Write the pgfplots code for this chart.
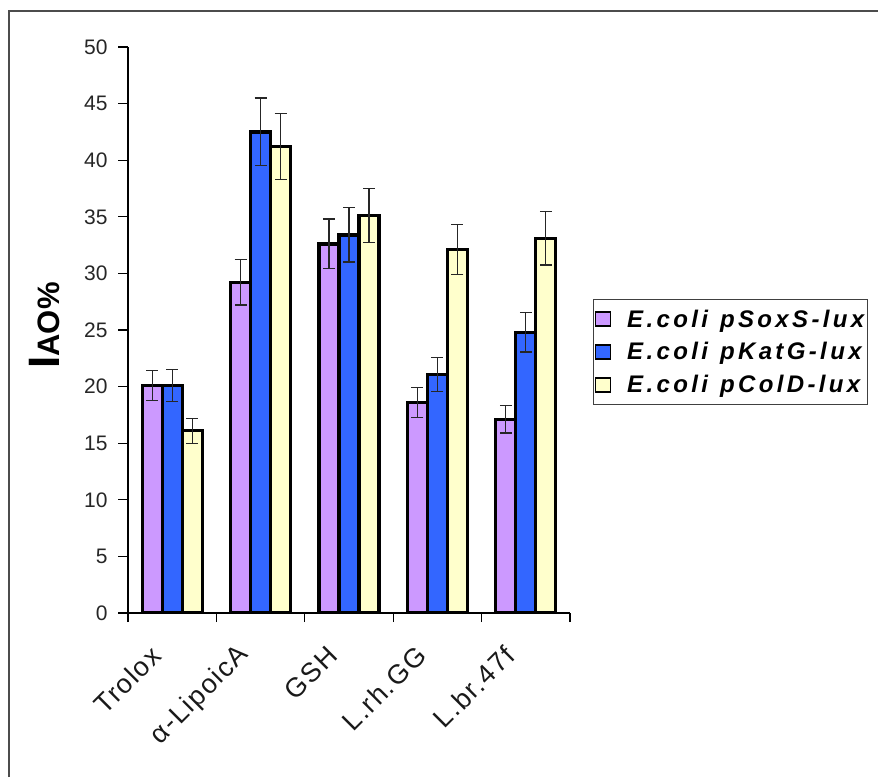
\documentclass[border=0pt]{standalone}
\usepackage{pgfplots}
\pgfplotsset{compat=1.18}
\usepackage{pgfplotstable}
\usepackage{fontspec}
\setmainfont{Liberation Sans}
\newfontfamily\legfont[LetterSpace=14]{Liberation Sans}
\newfontfamily\xlabfont[LetterSpace=6]{Liberation Sans}
\definecolor{cpurple}{HTML}{CC99FF}
\definecolor{cblue}{HTML}{3366FF}
\definecolor{cyellow}{HTML}{FFFFCC}
\pgfplotstableread{
x P Pe B Be Y Ye
0 20.1 1.3 20.1 1.4 16.1 1.1
1 29.2 2.0 42.5 3.0 41.2 2.9
2 32.6 2.2 33.4 2.4 35.1 2.4
3 18.6 1.3 21.1 1.5 32.1 2.2
4 17.1 1.2 24.8 1.75 33.1 2.35
}\datatable
\begin{document}
\begin{tikzpicture}
\useasboundingbox (0pt,0pt) rectangle (878pt,777pt);
\draw[line width=1.5pt, black!70] (9pt,0pt) -- (9pt,766pt) -- (878pt,766pt);
\begin{axis}[
  at={(128pt,164pt)}, anchor=south west,
  width=442pt, height=566pt, scale only axis,
  xmin=-0.5, xmax=4.5, ymin=0, ymax=50,
  axis lines*=left,
  axis line style={line width=1.3pt, black},
  ytick={0,5,...,50},
  xtick={0,...,4},
  xticklabels={Trolox, α-LipoicA, GSH, L.rh.GG, L.br.47f},
  major x tick style={draw=none},
  minor xtick={-0.5,0.5,1.5,2.5,3.5,4.5},
  tick align=outside,
  major tick length=10pt, minor tick length=9pt,
  tick style={black, line width=1.2pt},
  /pgf/number format/assume math mode=true,
  yticklabel style={font=\fontsize{21}{21}\selectfont, text=black!85, xshift=-7pt},
  xticklabel style={font=\xlabfont\fontsize{27}{27}\selectfont, text=black!90, rotate=45, anchor=east, xshift=-27.5pt, yshift=-8.5pt},
  ylabel={\bfseries\fontsize{44}{44}\selectfont I\fontsize{31}{31}\selectfont AO\%},
  ylabel style={at={(axis description cs:-0.155,0.508)}, anchor=base},
  ybar=0pt, bar width=20pt,
  legend style={at={(axis description cs:1.052,0.555)}, anchor=north west,
    draw=black!75, line width=1.5pt, fill=white,
    font=\legfont\bfseries\itshape\fontsize{24}{26}\selectfont,
    row sep=10pt, inner xsep=1pt, inner ysep=8pt,
    /tikz/every odd column/.append style={column sep=14pt}},
  legend cell align=left,
  legend image code/.code={\draw[#1, line width=1.5pt] (0pt,-7pt) rectangle (15pt,7pt);},
  error bars/error bar style={line width=1.2pt, black!85},
  error bars/error mark options={rotate=90, mark size=6pt, line width=1.2pt, black!85},
]
\addplot[fill=cpurple, draw=black, line width=3.2pt,
  error bars/.cd, y dir=both, y explicit]
  table[x=x, y=P, y error=Pe]{\datatable};
\addlegendentry{E.coli\hspace{12pt}pSoxS-lux}
\addplot[fill=cblue, draw=black, line width=3.2pt,
  error bars/.cd, y dir=both, y explicit]
  table[x=x, y=B, y error=Be]{\datatable};
\addlegendentry{E.coli\hspace{12pt}pKatG-lux}
\addplot[fill=cyellow, draw=black, line width=3.2pt,
  error bars/.cd, y dir=both, y explicit]
  table[x=x, y=Y, y error=Ye]{\datatable};
\addlegendentry{E.coli\hspace{12pt}pColD-lux}
\end{axis}
\end{tikzpicture}
\end{document}
